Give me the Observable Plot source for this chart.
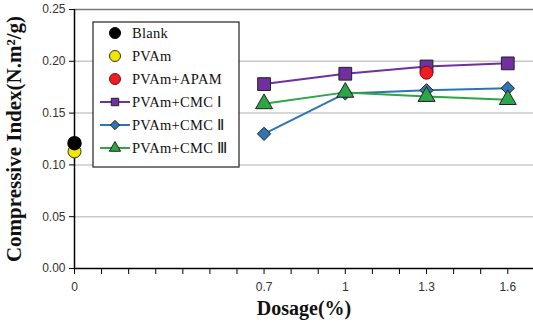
<!DOCTYPE html>
<html><head><meta charset="utf-8">
<script src="https://cdn.jsdelivr.net/npm/d3@7"></script>
<script src="https://cdn.jsdelivr.net/npm/@observablehq/plot@0.6"></script>
<style>
body{margin:0;background:#fff;}
#chart{position:relative;width:533px;height:329px;}
</style></head>
<body><div id="chart"></div>
<script>
const dosages = [0.7, 1, 1.3, 1.6];
const blank = [{x: 0, y: 0.121}];
const pvam = [{x: 0, y: 0.113}];
const pvamApam = [{x: 1.3, y: 0.189}];
const cmc1 = [0.178, 0.188, 0.195, 0.198];
const cmc2 = [0.130, 0.169, 0.172, 0.174];
const cmc3 = [0.159, 0.170, 0.166, 0.163];
const xTickLabels = [0, 0.7, 1, 1.3, 1.6];
const yTicks = [0, 0.05, 0.10, 0.15, 0.20, 0.25];
const minorXTicks = d3.range(0, 17).map(i => i / 10);

const series = [
  {name: "PVAm+CMC Ⅰ", values: cmc1, color: "#7030a0", symbol: "square", r: 7.2},
  {name: "PVAm+CMC Ⅱ", values: cmc2, color: "#2e75b6", symbol: "diamond2", r: 6},
  {name: "PVAm+CMC Ⅲ", values: cmc3, color: "#2ca646", symbol: "triangle", r: 6.3}
];
const lineData = series.flatMap(s => s.values.map((v, i) => ({x: dosages[i], y: v, name: s.name})));

const serif = "'Liberation Serif', 'Times New Roman', serif";
const sans = "'Liberation Sans', Arial, sans-serif";

const marks = [
  Plot.ruleY(yTicks.filter(d => d > 0 && d < 0.25), {stroke: "#c8c8c8", strokeWidth: 1.5}),
  Plot.ruleY([0.25], {stroke: "#7a7a7a", strokeWidth: 1.5}),
  Plot.ruleY([0], {stroke: "#000", strokeWidth: 1.5}),
  Plot.ruleX([0], {stroke: "#000", strokeWidth: 1.5})
];
for (const s of series) {
  const d = lineData.filter(p => p.name === s.name);
  marks.push(Plot.line(d, {x: "x", y: "y", stroke: s.color, strokeWidth: 2}));
}
for (const s of series) {
  const d = lineData.filter(p => p.name === s.name);
  marks.push(Plot.dot(d, {x: "x", y: "y", symbol: () => s.symbol, fill: s.color, stroke: "#222", strokeWidth: 1, r: s.r}));
}
marks.push(Plot.dot(pvam, {x: "x", y: "y", fill: "#f0e600", stroke: "#333", strokeWidth: 1, r: 6.5}));
marks.push(Plot.dot(blank, {x: "x", y: "y", fill: "#000", stroke: "#000", r: 6.5}));
marks.push(Plot.dot(pvamApam, {x: "x", y: "y", fill: "#ee1c24", stroke: "#7a1010", strokeWidth: 1, r: 6.5}));

const plot = Plot.plot({
  width: 533,
  height: 329,
  marginLeft: 74,
  marginRight: 0,
  marginTop: 9,
  marginBottom: 61,
  style: {fontFamily: sans, background: "#fff", overflow: "visible"},
  x: {domain: [0, 1.695], label: null},
  y: {domain: [0, 0.25], label: null},
  marks: [
    Plot.axisX({ticks: xTickLabels, tickSize: 0, tickPadding: 14, tickFormat: d => String(d), fontSize: 12, fill: "#333"}),
    Plot.axisX({ticks: minorXTicks, tickSize: 6, tickFormat: () => "", stroke: "#000"}),
    Plot.axisY({ticks: yTicks, tickSize: 5, tickPadding: 4, tickFormat: d3.format(".2f"), fontSize: 12, fill: "#333", stroke: "#000"}),
    ...marks,
    Plot.text(["Dosage(%)"], {frameAnchor: "bottom", dy: 46, fontSize: 20, fontWeight: "bold", fontFamily: serif, fill: "#111"}),
    Plot.text(["Compressive Index(N.m²/g)"], {frameAnchor: "left", textAnchor: "middle", dx: -60, dy: 0, rotate: -90, fontSize: 21, fontWeight: "bold", fontFamily: serif, fill: "#111"})
  ]
});
document.getElementById("chart").appendChild(plot);

// Legend drawn inside the SVG with d3 from the series arrays
const svg = d3.select(plot);
const legendItems = [
  {name: "Blank", kind: "dot", fill: "#000", stroke: "#000"},
  {name: "PVAm", kind: "dot", fill: "#f0e600", stroke: "#333"},
  {name: "PVAm+APAM", kind: "dot", fill: "#ee1c24", stroke: "#7a1010"},
  ...series.map(s => ({name: s.name, kind: "line", fill: s.color, symbol: s.symbol}))
];
const lg = svg.append("g").attr("transform", "translate(93,22)");
lg.append("rect").attr("width", 146).attr("height", 145).attr("fill", "#fff").attr("stroke", "#222").attr("stroke-width", 1.2);
legendItems.forEach((it, i) => {
  const y = 11 + i * 23;
  const g = lg.append("g").attr("transform", `translate(0,${y})`);
  if (it.kind === "dot") {
    g.append("circle").attr("cx", 22).attr("cy", 0).attr("r", 5.5).attr("fill", it.fill).attr("stroke", it.stroke);
  } else {
    g.append("line").attr("x1", 7).attr("x2", 37).attr("y1", 0).attr("y2", 0).attr("stroke", it.fill).attr("stroke-width", 2);
    const sym = {square: d3.symbolSquare, diamond2: d3.symbolDiamond2, triangle: d3.symbolTriangle}[it.symbol];
    g.append("path").attr("d", d3.symbol(sym, 55)()).attr("transform", "translate(22,0)").attr("fill", it.fill).attr("stroke", "#222");
  }
  g.append("text").attr("x", 39).attr("y", 0).attr("dy", "0.35em").attr("text-anchor", "start")
    .style("font-family", serif).style("font-size", "14.5px").style("letter-spacing", "0.3px")
    .attr("fill", "#111").text(it.name);
});
</script></body></html>
